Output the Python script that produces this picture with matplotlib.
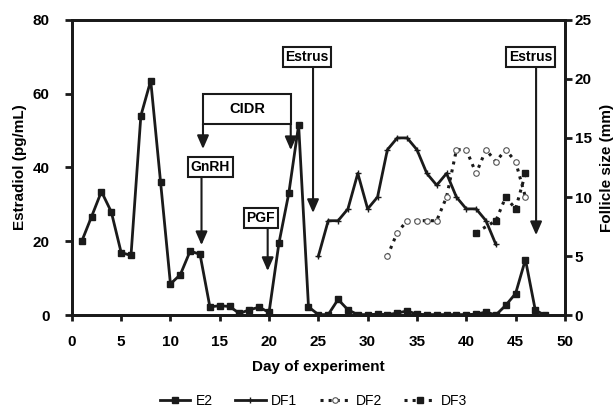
import matplotlib
matplotlib.use("Agg")
import matplotlib.pyplot as plt
from matplotlib.patches import Rectangle

plt.rcParams['font.family'] = ['Liberation Sans', 'DejaVu Sans']

# ---- data ----
e2_days = list(range(1, 49))
e2_vals = [20, 26.7, 33.5, 28, 17, 16.2, 54, 63.5, 36, 8.5,
           11, 17.4, 16.5, 2.3, 2.6, 2.4, 0.5, 1.5, 2.2, 0.8,
           19.5, 33, 51.5, 2.3, 0.2, 0.2, 4.3, 1.5, 0.2, 0.2,
           0.3, 0.2, 0.6, 1.2, 0.3, 0.2, 0.2, 0.2, 0.2, 0.2,
           0.3, 0.9, 0.1, 2.7, 5.9, 15.1, 1.4, 0.0]

df1_days = list(range(25, 44))
df1_vals = [5, 8, 8, 9, 12, 9, 10, 14, 15, 15, 14, 12, 11, 12, 10, 9, 9, 8, 6]

df2_days = list(range(32, 47))
df2_vals = [5, 7, 8, 8, 8, 8, 10, 14, 14, 12, 14, 13, 14, 13, 10]

df3_days = [41, 43, 44, 45, 46]
df3_vals = [7, 8, 10, 9, 12]

x_ticks = list(range(0, 51, 5))
left_ticks = [0, 20, 40, 60, 80]
right_ticks = [0, 5, 10, 15, 20, 25]

fig = plt.figure(figsize=(6.14, 4.09), dpi=100)
ax = fig.add_axes([0.117, 0.229, 0.803, 0.723])
ax2 = ax.twinx()

k = '#1a1a1a'
l_e2, = ax.plot(e2_days, e2_vals, color=k, lw=2, marker='s', ms=4, label='E2')
l_df1, = ax2.plot(df1_days, df1_vals, color=k, lw=2, marker='+', ms=4, mew=1, label='DF1')
l_df2, = ax2.plot(df2_days, df2_vals, color=k, lw=2.2, ls=':', marker='o', ms=4,
                  mfc='white', mec='#555555', mew=0.8, label='DF2')
l_df3, = ax2.plot(df3_days, df3_vals, color=k, lw=2.2, ls=':', marker='s', ms=4, label='DF3')

ax.set_xlim(0, 50)
ax.set_ylim(0, 80)
ax2.set_ylim(0, 25)
ax.set_xticks(x_ticks)
ax.set_yticks(left_ticks)
ax2.set_yticks(right_ticks)

for a in (ax, ax2):
    for s in a.spines.values():
        s.set_linewidth(2)
        s.set_color(k)
ax.tick_params(axis='x', width=2, length=4, color=k, labelsize=11, pad=10)
ax.tick_params(axis='y', width=2, length=5, color=k, labelsize=11, pad=11)
ax2.tick_params(axis='y', width=2, length=5, color=k, labelsize=11, pad=2)
for lab in ax.get_xticklabels() + ax.get_yticklabels() + ax2.get_yticklabels():
    lab.set_fontweight('bold')

ax.set_xlabel('Day of experiment', fontsize=11, fontweight='bold', labelpad=8)
ax.set_ylabel('Estradiol (pg/mL)', fontsize=11, fontweight='bold', labelpad=4)
ax2.set_ylabel('Follicle size (mm)', fontsize=11, fontweight='bold', labelpad=6)

aprops = dict(arrowstyle='-|>,head_length=0.8,head_width=0.35', color=k, lw=1.5,
              shrinkA=0, shrinkB=0)

# CIDR box with two down arrows
ax.add_patch(Rectangle((13.3, 51.8), 22.2 - 13.3, 59.9 - 51.8, fill=False,
                       ec=k, lw=1.5, zorder=5))
ax.text((13.3 + 22.2) / 2, 55.85, 'CIDR', ha='center', va='center',
        fontsize=10.5, fontweight='bold', zorder=6)
ax.annotate('', xy=(13.3, 45.0), xytext=(13.3, 51.8), arrowprops=aprops)
ax.annotate('', xy=(22.2, 44.7), xytext=(22.2, 51.8), arrowprops=aprops)

box = dict(boxstyle='square,pad=0.2', fc='white', ec=k, lw=1.5)

# GnRH
ax.text(14.05, 40.2, 'GnRH', ha='center', va='center', fontsize=10,
        fontweight='bold', bbox=box, zorder=6)
ax.annotate('', xy=(13.15, 19.0), xytext=(13.15, 37.5), arrowprops=aprops)

# PGF
ax.text(19.15, 26.3, 'PGF', ha='center', va='center', fontsize=10,
        fontweight='bold', bbox=box, zorder=6)
ax.annotate('', xy=(19.86, 12.0), xytext=(19.86, 23.5), arrowprops=aprops)

# Estrus 1
ax.text(23.85, 69.9, 'Estrus', ha='center', va='center', fontsize=10,
        fontweight='bold', bbox=box, zorder=6)
ax.annotate('', xy=(24.46, 27.7), xytext=(24.46, 66.9), arrowprops=aprops)

# Estrus 2
ax.text(46.5, 69.9, 'Estrus', ha='center', va='center', fontsize=10,
        fontweight='bold', bbox=box, zorder=6)
ax.annotate('', xy=(47.08, 21.7), xytext=(47.08, 66.9), arrowprops=aprops)

fig.legend(handles=[l_e2, l_df1, l_df2, l_df3], loc='center',
           bbox_to_anchor=(0.51, 0.02), ncol=4, frameon=False,
           fontsize=10, handlelength=2.2, columnspacing=1.6, handletextpad=0.4,
           borderpad=0.1)

fig.savefig('out.png', dpi=100)
